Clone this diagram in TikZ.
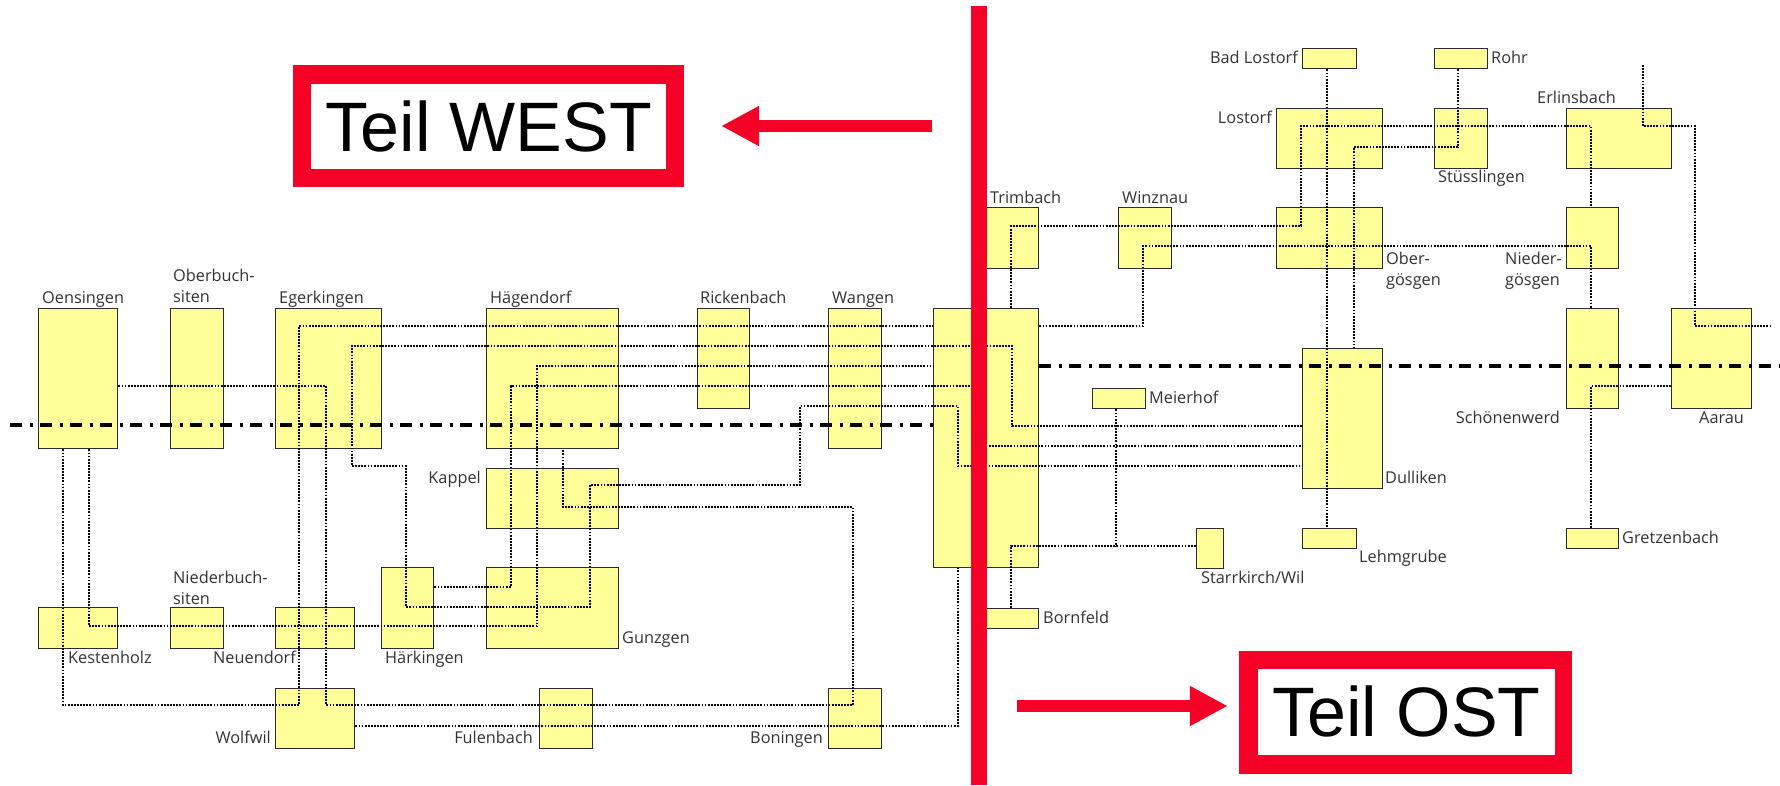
\documentclass[tikz,border=0pt]{standalone}
\usepackage{fontspec}
\setmainfont{Open Sans}
\newfontfamily\arialf{Liberation Sans}
\usetikzlibrary{arrows.meta,calc}
\definecolor{boxfill}{RGB}{255,255,153}
\definecolor{boxline}{RGB}{45,45,45}
\definecolor{labtext}{RGB}{50,50,50}
\definecolor{signred}{RGB}{245,0,38}
\newcommand\stat[5]{\node[stn, minimum width={(#4-#2)*1pt}, minimum height={(#5-#3)*1pt}] (#1) at (#2,#3) {};}
\begin{document}
\begin{tikzpicture}[x=1pt,y=-1pt,
  stn/.style={draw=boxline, fill=boxfill, line width=1.4pt, inner sep=0pt, anchor=north west},
  conn/.style={line width=1.6pt, dash pattern=on 1.8pt off 1.3pt},
  zone/.style={line width=4.5pt, dash pattern=on 12pt off 7.5pt on 3pt off 7.5pt},
  lab/.style={font=\fontsize{16.3}{21}\selectfont, text=labtext, inner sep=0pt},
  lw/.style={lab, anchor=base west},
  le/.style={lab, anchor=base east},
  redbox/.style={fill=signred, inner sep=0pt, anchor=north west},
  whitebox/.style={fill=white, inner sep=0pt, anchor=north west},
  bigtext/.style={font=\arialf\fontsize{70}{70}\selectfont, inner sep=0pt},
  redarrow/.style={signred, line width=12.3pt, -{Triangle[length=38pt, width=37.5pt]}}
]
\useasboundingbox (0,0) rectangle (1780,785);

% ---------- stations (west)
\stat{oens}{38}{308}{117}{448}
\stat{oberb}{170}{308}{223}{448}
\stat{eger}{275}{308}{381}{448}
\stat{haeg}{486}{308}{618}{448}
\stat{rick}{697}{308}{749}{408}
\stat{wang}{828}{308}{881}{448}
\stat{olten}{933}{308}{1038}{567}
\stat{kapp}{486}{468}{618}{528}
\stat{gunz}{486}{567}{618}{648}
\stat{haerk}{381}{567}{433}{648}
\stat{kest}{38}{607}{117}{648}
\stat{niedb}{170}{607}{223}{648}
\stat{neuend}{275}{607}{354}{648}
\stat{wolf}{275}{688}{354}{748}
\stat{fulen}{539}{688}{592}{748}
\stat{bon}{828}{688}{881}{748}
% ---------- stations (east)
\stat{trim}{985}{207}{1038}{268}
\stat{winz}{1118}{207}{1171}{268}
\stat{lost}{1276}{108}{1382}{168}
\stat{badl}{1302}{48}{1356}{68}
\stat{oberg}{1276}{207}{1382}{268}
\stat{rohr}{1434}{48}{1487}{68}
\stat{stue}{1434}{108}{1487}{168}
\stat{erl}{1566}{108}{1671}{168}
\stat{niedg}{1566}{207}{1618}{268}
\stat{schoe}{1566}{308}{1618}{408}
\stat{aarau}{1671}{308}{1751}{408}
\stat{gretz}{1566}{528}{1618}{548}
\stat{meier}{1092}{388}{1145}{408}
\stat{dull}{1302}{348}{1382}{488}
\stat{starr}{1196}{528}{1223}{568}
\stat{lehm}{1302}{528}{1356}{548}
\stat{born}{985}{608}{1038}{628}

% ---------- connectors
\draw[conn] (oens.east |- 0,386) -- (326,386) -- (326,705) -- (853,705) -- (853,507) -- (563,507) -- (563,0 |- haeg.south);
\draw[conn] (63,0 |- oens.south) -- (63,705) -- (299,705) -- (299,326) -- (olten.west |- 0,326);
\draw[conn] (olten.east |- 0,326) -- (1143,326) -- (1143,246) -- (1591,246) -- (1591,0 |- schoe.north);
\draw[conn] (89,0 |- oens.south) -- (89,626) -- (537,626) -- (537,366) -- (olten.west |- 0,366);
\draw[conn] (dull.west |- 0,426) -- (1012,426) -- (1012,346) -- (352,346) -- (352,466) -- (406,466) -- (406,607) -- (590,607) -- (590,485) -- (800,485) -- (800,406) -- (958,406) -- (958,466) -- (dull.west |- 0,466);
\draw[conn] (haerk.east |- 0,587) -- (511,587) -- (511,386) -- (978,386) -- (978,446) -- (dull.west |- 0,446);
\draw[conn] (wolf.east |- 0,726) -- (958,726) -- (958,0 |- olten.south);
\draw[conn] (1011,0 |- born.north) -- (1011,546) -- (starr.west |- 0,546);
\draw[conn] (1116,0 |- meier.south) -- (1116,546);
\draw[conn] (1011,0 |- olten.north) -- (1011,226) -- (1301,226) -- (1301,126) -- (1591,126) -- (1591,0 |- niedg.north);
\draw[conn] (1327,0 |- badl.south) -- (1327,0 |- lehm.north);
\draw[conn] (1458,0 |- rohr.south) -- (1458,147) -- (1354,147) -- (1354,0 |- dull.north);
\coordinate (erlfree) at (1643,65);
\coordinate (aarfree) at (1772,326);
\draw[conn] (erlfree) -- (1643,126) -- (1695,126) -- (1695,326) -- (aarfree);
\draw[conn] (1591,0 |- gretz.north) -- (1591,386) -- (aarau.west |- 0,386);

% ---------- zone boundaries
\coordinate (zwest) at (10,425);
\coordinate (zeast) at (1780,366);
\draw[zone] (zwest) -- (olten.west |- zwest);
\draw[zone] (olten.east |- zeast) -- (zeast);

% ---------- labels
\node[lw] at (42,303) {Oensingen};
\node[lw] at (173,281) {\vtop{\hbox{Oberbuch-}\hbox{siten}}};
\node[lw] at (279,303) {Egerkingen};
\node[lw] at (490,303) {Hägendorf};
\node[lw] at (700,303) {Rickenbach};
\node[lw] at (832,303) {Wangen};
\node[le] at (481,483) {Kappel};
\node[lw] at (622,643) {Gunzgen};
\node[lw] at (385,663) {Härkingen};
\node[lw] at (68,663) {Kestenholz};
\node[lw] at (173,583) {\vtop{\hbox{Niederbuch-}\hbox{siten}}};
\node[le] at (296,663) {Neuendorf};
\node[le] at (271,743) {Wolfwil};
\node[le] at (533,743) {Fulenbach};
\node[le] at (823,743) {Boningen};
\node[lw] at (990,203) {Trimbach};
\node[lw] at (1122,203) {Winznau};
\node[le] at (1298,63) {Bad Lostorf};
\node[le] at (1272,123) {Lostorf};
\node[lw] at (1491,63) {Rohr};
\node[lw] at (1438,182) {Stüsslingen};
\node[lw] at (1537,103) {Erlinsbach};
\node[lw] at (1386,264) {\vtop{\hbox{Ober-}\hbox{gösgen}}};
\node[lw] at (1505,264) {\vtop{\hbox{Nieder-}\hbox{gösgen}}};
\node[le] at (1560,423) {Schönenwerd};
\node[lw] at (1699,423) {Aarau};
\node[lw] at (1622,543) {Gretzenbach};
\node[lw] at (1149,403) {Meierhof};
\node[lw] at (1385,483) {Dulliken};
\node[lw] at (1201,583) {Starrkirch/Wil};
\node[lw] at (1359,562) {Lehmgrube};
\node[lw] at (1043,623) {Bornfeld};

% ---------- red divider
\coordinate (divtop) at (978.7,6);
\coordinate (divbot) at (978.7,785);
\draw[signred, line width=16pt] (divtop) -- (divbot);

% ---------- Teil WEST
\node[redbox, minimum width=390.8pt, minimum height=121.7pt] (westbox) at (293,65) {};
\node[whitebox, minimum width=354.9pt, minimum height=85.7pt] (westin) at (311.2,83.3) {};
\node[bigtext] (westtxt) at (westin.center) {Teil WEST};
\coordinate (wA) at (931.6,126);
\coordinate (wB) at (721.1,126);
\draw[redarrow] (wA) -- (wB);

% ---------- Teil OST
\node[redbox, minimum width=333.2pt, minimum height=122.3pt] (ostbox) at (1238.8,651) {};
\node[whitebox, minimum width=296.9pt, minimum height=86pt] (ostin) at (1257.7,668.3) {};
\node[bigtext] (osttxt) at (ostin.center) {Teil OST};
\coordinate (eA) at (1017.4,706);
\coordinate (eB) at (1227.8,706);
\draw[redarrow] (eA) -- (eB);
\end{tikzpicture}
\end{document}
